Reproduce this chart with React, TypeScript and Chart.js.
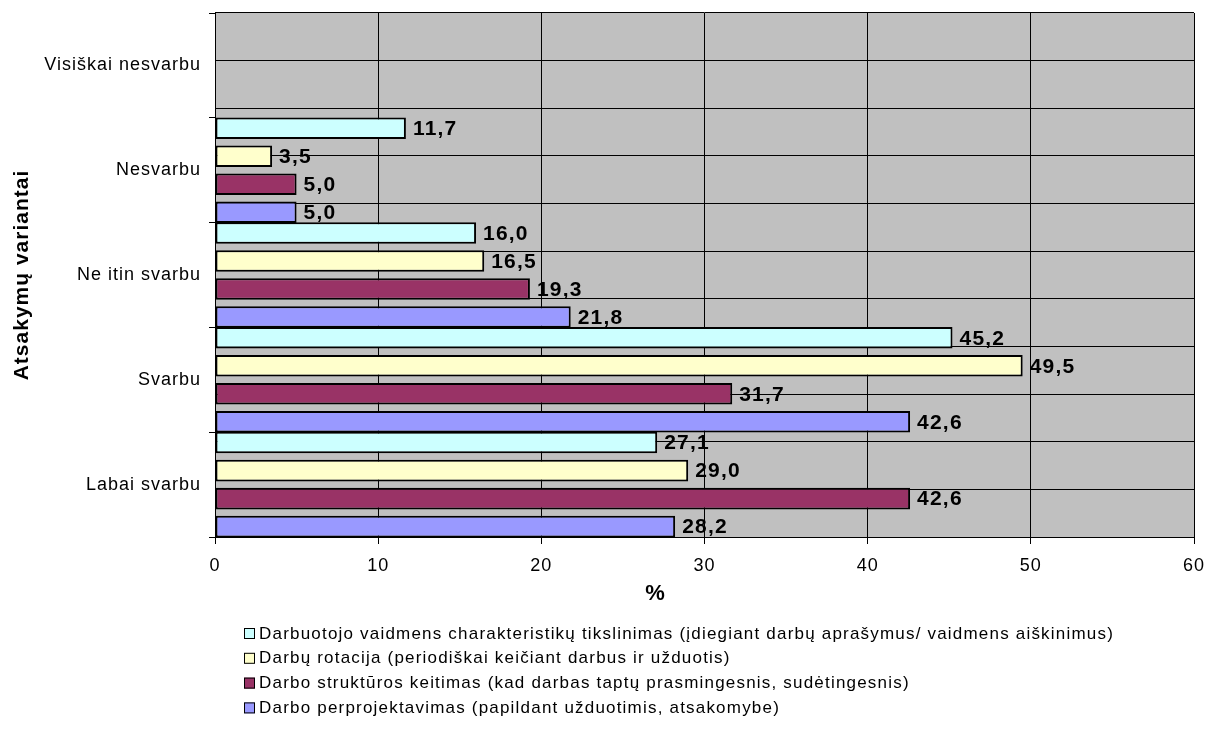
import React, { useEffect, useRef } from 'react';
import { Chart, registerables } from 'chart.js';

Chart.register(...registerables);

const categories = ['Visiškai nesvarbu', 'Nesvarbu', 'Ne itin svarbu', 'Svarbu', 'Labai svarbu'];

const seriesLabels = [
  'Darbuotojo vaidmens charakteristikų tikslinimas (įdiegiant darbų aprašymus/ vaidmens aiškinimus)',
  'Darbų rotacija (periodiškai keičiant darbus ir užduotis)',
  'Darbo struktūros keitimas (kad darbas taptų prasmingesnis, sudėtingesnis)',
  'Darbo perprojektavimas (papildant užduotimis, atsakomybe)',
];

const roleClarification = [null, 11.7, 16.0, 45.2, 27.1];
const jobRotation = [null, 3.5, 16.5, 49.5, 29.0];
const structureChange = [null, 5.0, 19.3, 31.7, 42.6];
const jobRedesign = [null, 5.0, 21.8, 42.6, 28.2];

const seriesColors = ['#CCFFFF', '#FFFFCC', '#993366', '#9999FF'];

const xMin = 0;
const xMax = 60;
const xStep = 10;
const xTitle = '%';
const yTitle = 'Atsakymų variantai';

const FONT = '"Liberation Sans", Arial, sans-serif';

function zeroPadding(scale: any) {
  scale.paddingTop = 0;
  scale.paddingBottom = 0;
  scale.paddingLeft = 0;
  scale.paddingRight = 0;
}

const backgroundPlugin = {
  id: 'plotBackground',
  beforeDraw(chart: any) {
    const { ctx, chartArea } = chart;
    ctx.save();
    ctx.fillStyle = '#C0C0C0';
    ctx.fillRect(chartArea.left, chartArea.top, chartArea.right - chartArea.left, chartArea.bottom - chartArea.top);
    ctx.restore();
    (ctx as any).letterSpacing = '1px';
  },
};

const valueLabelPlugin = {
  id: 'valueLabels',
  afterDatasetsDraw(chart: any) {
    const { ctx } = chart;
    ctx.save();
    (ctx as any).letterSpacing = '1.2px';
    ctx.font = `bold 21px ${FONT}`;
    ctx.fillStyle = '#000';
    ctx.textAlign = 'left';
    ctx.textBaseline = 'middle';
    chart.data.datasets.forEach((ds: any, i: number) => {
      const meta = chart.getDatasetMeta(i);
      meta.data.forEach((el: any, j: number) => {
        const v = ds.data[j];
        if (v === null || v === undefined) return;
        ctx.fillText(v.toFixed(1).replace('.', ','), el.x + 7, el.y + 1);
      });
    });
    ctx.restore();
  },
};

const legendPlugin = {
  id: 'customLegend',
  afterDraw(chart: any) {
    const { ctx } = chart;
    ctx.save();
    // x-axis title (offset left of plot centre as in the reference)
    (ctx as any).letterSpacing = '0px';
    ctx.font = `bold 22px ${FONT}`;
    ctx.fillStyle = '#000';
    ctx.textAlign = 'center';
    ctx.textBaseline = 'middle';
    ctx.fillText(xTitle, 655, 594);

    (ctx as any).letterSpacing = '1.2px';
    ctx.font = `17px ${FONT}`;
    ctx.textAlign = 'left';
    const boxX = 244;
    const textX = 259;
    const y0 = 633;
    const step = 24.8;
    chart.data.datasets.forEach((ds: any, i: number) => {
      const y = y0 + i * step;
      ctx.fillStyle = ds.backgroundColor;
      ctx.fillRect(boxX, y - 5, 11, 11);
      ctx.strokeStyle = '#000';
      ctx.lineWidth = 1;
      ctx.strokeRect(boxX + 0.5, y - 4.5, 10, 10);
      ctx.fillStyle = '#000';
      ctx.fillText(ds.label, textX, y + 1);
    });
    ctx.restore();
  },
};

export default function App() {
  const canvasRef = useRef<HTMLCanvasElement>(null);

  useEffect(() => {
    document.body.style.margin = '0';
    Chart.defaults.font.family = FONT;
    Chart.defaults.color = '#000';
    const seriesValues = [roleClarification, jobRotation, structureChange, jobRedesign];
    const chart = new Chart(canvasRef.current as HTMLCanvasElement, {
      type: 'bar',
      data: {
        labels: categories,
        datasets: seriesValues.map((vals, i) => ({
          label: seriesLabels[i],
          data: vals as any,
          backgroundColor: seriesColors[i],
          borderColor: '#000',
          borderWidth: 2,
          borderSkipped: false,
          categoryPercentage: 1.069,
          barPercentage: 0.77,
        })),
      },
      options: {
        indexAxis: 'y',
        animation: false,
        responsive: true,
        maintainAspectRatio: false,
        layout: { padding: { top: 13, right: 15, left: 0, bottom: 729 - 537 - 70 } },
        plugins: {
          legend: { display: false },
          tooltip: { enabled: false },
        },
        scales: {
          x: {
            type: 'linear',
            min: xMin,
            max: xMax,
            ticks: { stepSize: xStep, font: { size: 18 }, color: '#000', padding: 11 },
            grid: { color: '#000', lineWidth: 1, tickLength: 7, drawTicks: true },
            border: { color: '#000', width: 1 },
            title: { display: false },
            afterFit(scale: any) { scale.height = 70; zeroPadding(scale); },
          },
          y: {
            type: 'category',
            ticks: { font: { size: 18 }, color: '#000', padding: 8 },
            grid: { offset: true, drawOnChartArea: false, drawTicks: true, tickLength: 6, color: '#000' },
            border: { color: '#000', width: 1 },
            title: { display: true, text: yTitle, font: { size: 21, weight: 'bold' }, color: '#000', padding: { top: 10, bottom: 0 } },
            afterFit(scale: any) { scale.width = 215; zeroPadding(scale); },
          },
          y2: {
            type: 'linear',
            position: 'left',
            min: 0,
            max: 10,
            ticks: { display: false, stepSize: 1 },
            grid: { color: '#000', lineWidth: 1, drawTicks: false },
            border: { display: false },
            afterFit(scale: any) { scale.width = 0; zeroPadding(scale); },
          },
        },
      } as any,
      plugins: [backgroundPlugin, valueLabelPlugin, legendPlugin],
    });
    return () => chart.destroy();
  }, []);

  return (
    <div style={{ position: 'relative', width: 1209, height: 729 }}>
      <canvas ref={canvasRef} />
    </div>
  );
}
